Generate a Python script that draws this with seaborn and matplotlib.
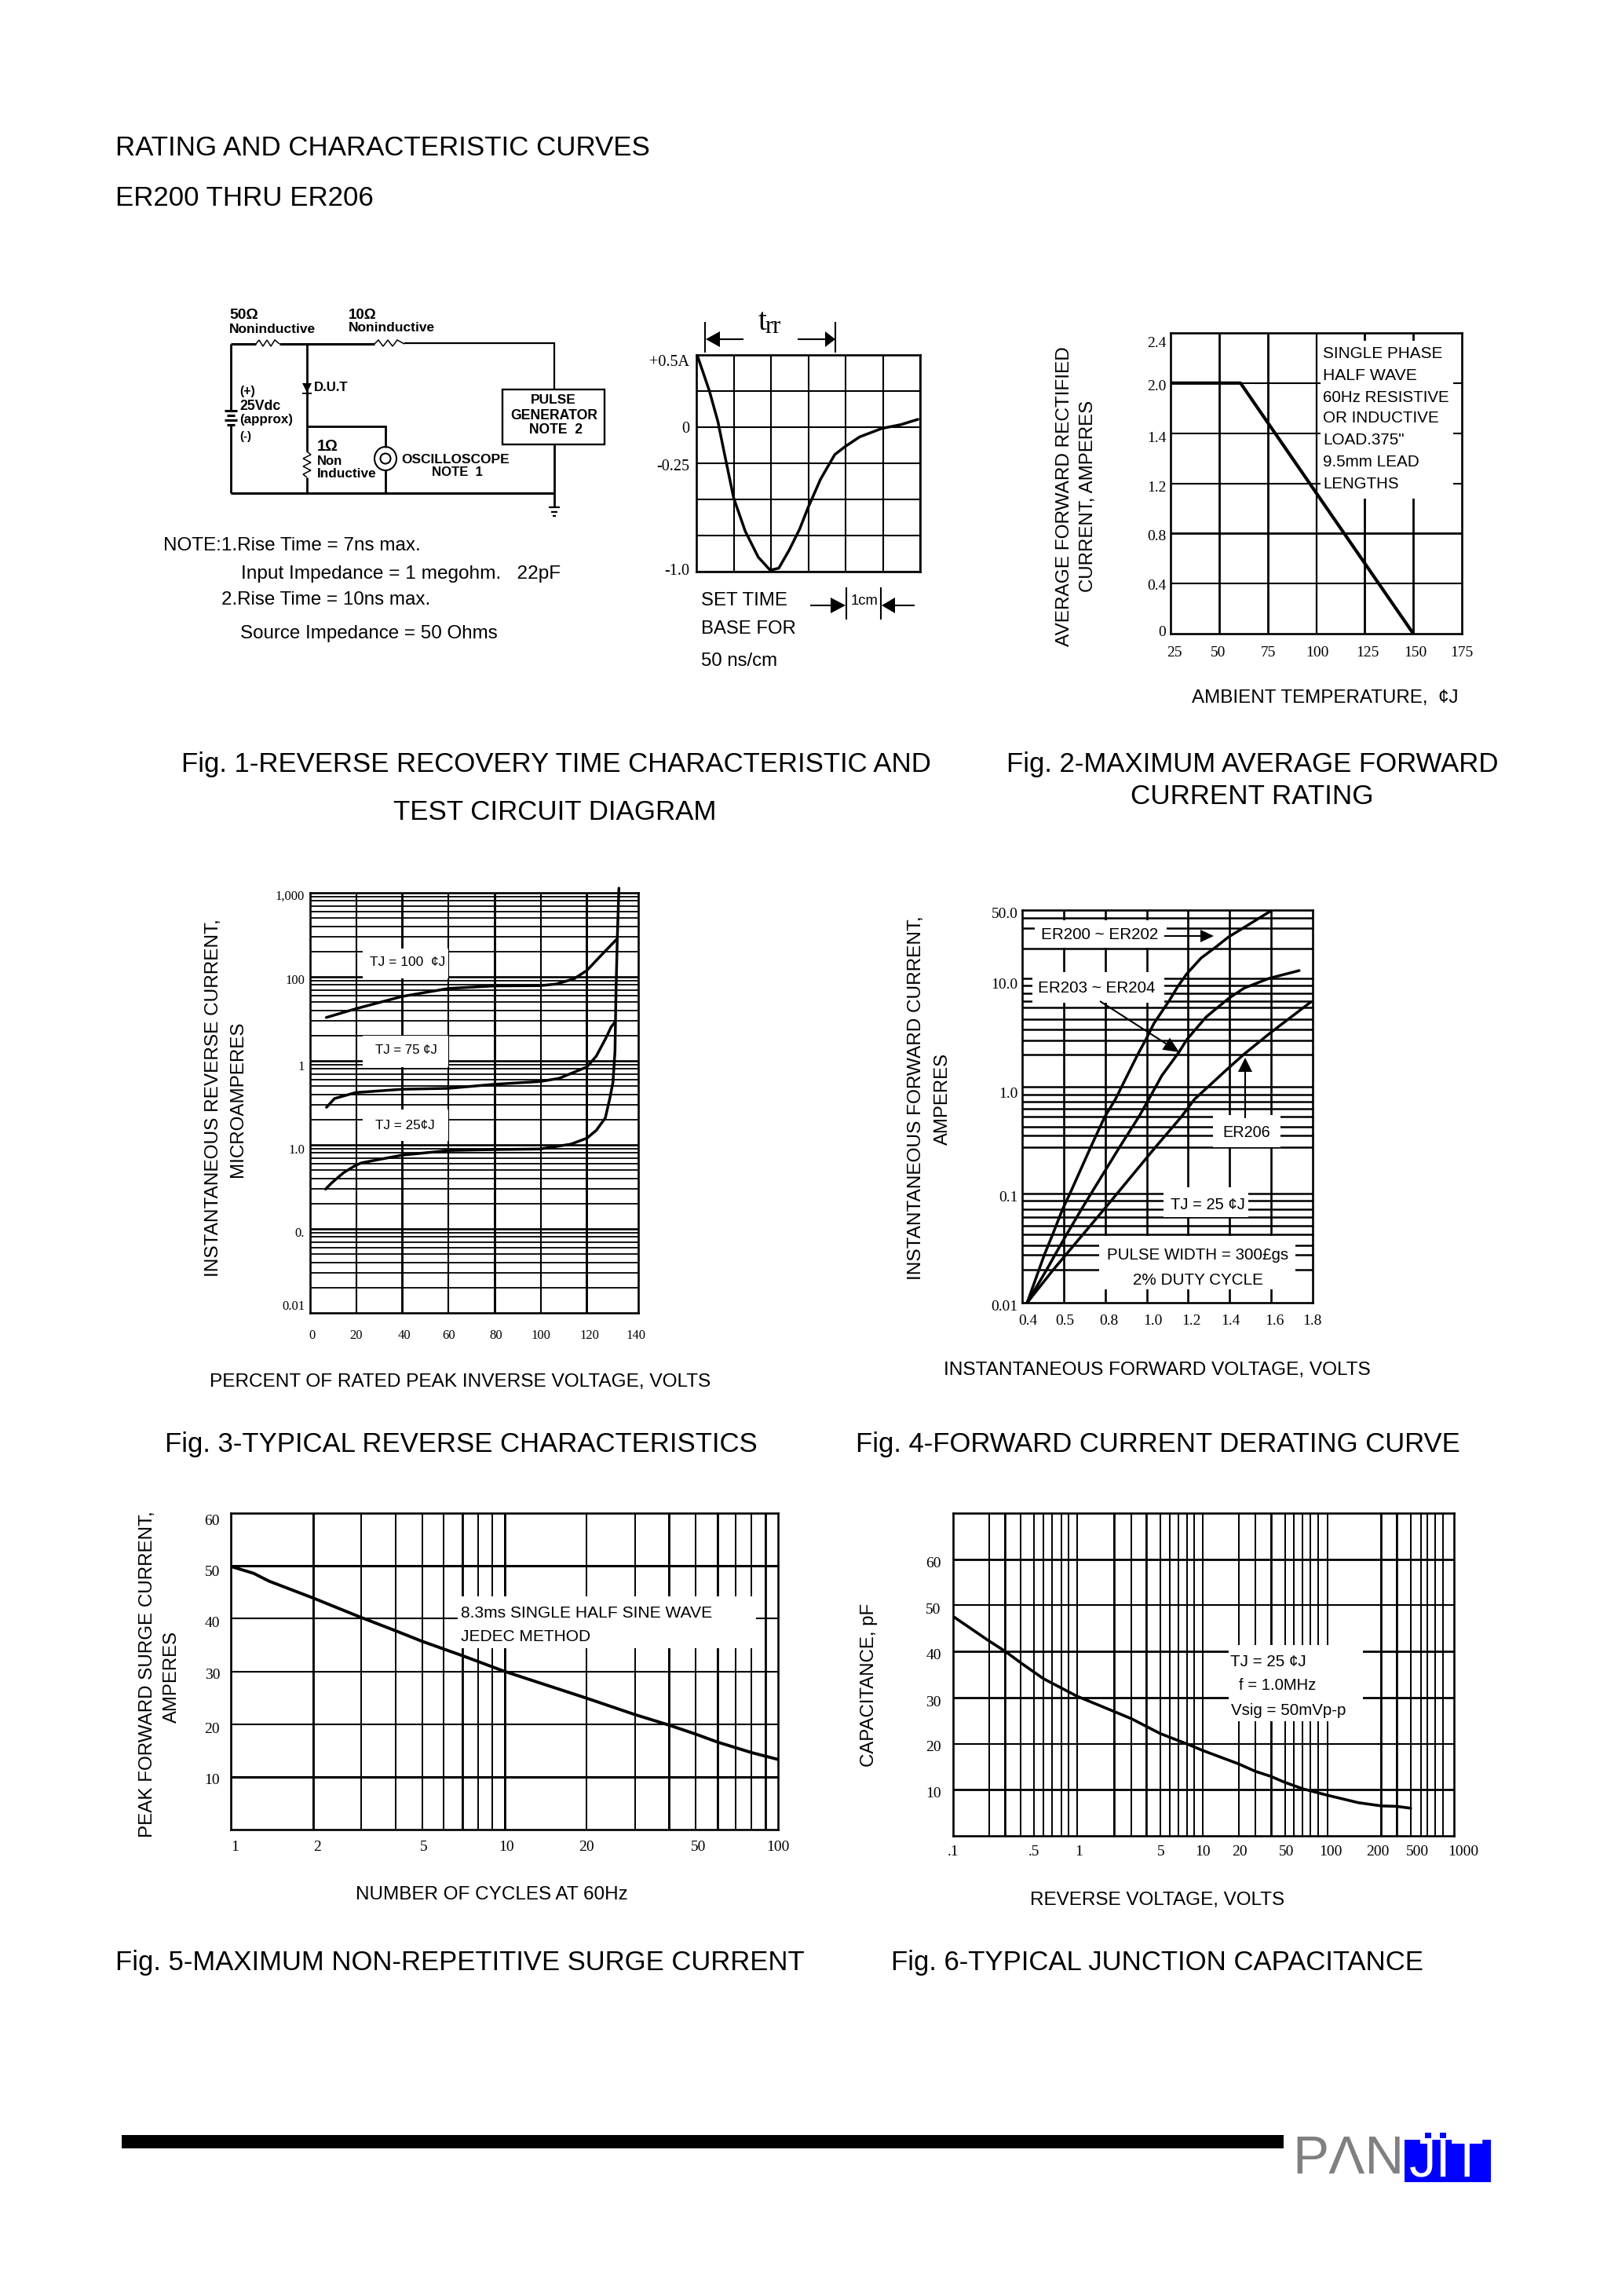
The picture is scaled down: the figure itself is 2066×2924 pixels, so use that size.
"""
ER200 THRU ER206 datasheet page, rating and characteristic curves.
"""
import matplotlib
matplotlib.use('Agg')
import matplotlib.pyplot as plt
import seaborn as sns
from matplotlib.patches import Ellipse, Rectangle
from matplotlib.transforms import Affine2D

W, H = 2066, 2924
SANS = 'Liberation Sans'
SERIF = 'Liberation Serif'

# ============================================================
# Data
# ============================================================
# Fig. 1 scope trace (cm, amperes)
trace_x = [0.02, 0.35, 0.58, 0.75, 1.0, 1.31, 1.66, 1.98, 2.21, 2.49, 2.77, 2.99, 3.33, 3.71, 3.98, 4.38, 4.97, 5.49, 5.94]
trace_y = [0.5, 0.25, 0.036, -0.18, -0.49, -0.72, -0.90, -0.99, -0.976, -0.85, -0.705, -0.56, -0.36, -0.19, -0.136, -0.067, -0.009, 0.018, 0.054]
scope_xticks = [0, 1, 2, 3, 4, 5, 6]
scope_yticks = [0.5, 0.25, 0, -0.25, -0.5, -0.75, -1.0]
scope_labels = {0.5: '+0.5A', 0: '0', -0.25: '-0.25', -1.0: '-1.0'}

# Fig. 2 derating
derate_x = [25, 61, 150]
derate_y = [2.0, 2.0, 0]
derate_xticks = [25, 50, 75, 100, 125, 150, 175]
derate_yticks = [0, 0.4, 0.8, 1.2, 1.6, 2.0, 2.4]
derate_ylabels = ['0', '0.4', '0.8', '1.2', '1.4', '2.0', '2.4']

# Fig. 3 reverse characteristics
rev_100_x = [7.0, 19.7, 39.9, 60.2, 79.9, 99.7, 106.6, 114.4, 120, 126.1, 133.2]
rev_100_y = [32.8, 41.6, 58.4, 72.8, 78, 78.5, 82, 94.6, 119, 179, 285]
rev_75_x = [7.1, 10.6, 19.7, 39.9, 60.2, 79.9, 99.7, 107.9, 120, 124.1, 128, 130.6, 132.2]
rev_75_y = [2.8, 3.56, 4.19, 4.59, 4.71, 5.26, 5.68, 6.18, 8.45, 11.4, 18.1, 25.5, 28.9]
rev_25_x = [6.7, 9.3, 14.5, 19.7, 22.3, 39.9, 60.2, 79.9, 99.7, 113.1, 120, 124.1, 128, 130, 131.3, 132.2, 132.6, 133.2, 133.9]
rev_25_y = [0.297, 0.352, 0.466, 0.570, 0.611, 0.755, 0.857, 0.879, 0.893, 1.02, 1.20, 1.49, 2.09, 3.62, 5.53, 12.9, 59.4, 285, 1135]
rev_xticks = [0, 20, 40, 60, 80, 100, 120, 142.3]
rev_xlabels = ['0', '20', '40', '60', '80', '100', '120', '140']
rev_yticks = [0.01, 0.1, 1, 10, 100, 1000]
rev_ylabels = ['0.01', '0.', '1.0', '1', '100', '1,000']

# Fig. 4 forward characteristics
er200_x = [0.424, 0.481, 0.508, 0.546, 0.594, 0.631, 0.73, 0.798, 0.849, 0.957, 0.997, 1.035, 1.111, 1.149, 1.193, 1.262, 1.338, 1.394, 1.476, 1.609]
er200_y = [0.01, 0.0202, 0.0281, 0.0424, 0.0728, 0.103, 0.274, 0.524, 0.76, 1.98, 2.74, 3.83, 6.32, 8.35, 11.0, 15.4, 19.8, 24.1, 30.1, 43.3]
er203_x = [0.424, 0.518, 0.56, 0.613, 0.685, 0.733, 0.869, 0.962, 1.01, 1.073, 1.155, 1.195, 1.287, 1.394, 1.47, 1.59, 1.735]
er203_y = [0.01, 0.0202, 0.0281, 0.0424, 0.0728, 0.103, 0.274, 0.524, 0.76, 1.26, 2.07, 2.74, 4.40, 6.5, 8.13, 10, 11.8]
er206_x = [0.424, 0.55, 0.613, 0.691, 0.794, 0.859, 1.042, 1.167, 1.23, 1.394, 1.472, 1.594, 1.791]
er206_y = [0.01, 0.0202, 0.0281, 0.0424, 0.0728, 0.103, 0.274, 0.524, 0.76, 1.48, 2.01, 3.11, 6.04]
fwd_xticks = [0.4, 0.6, 0.8, 1.0, 1.2, 1.4, 1.6, 1.8]
fwd_xlabels = ['0.4', '0.5', '0.8', '1.0', '1.2', '1.4', '1.6', '1.8']
fwd_yticks = [0.01, 0.1, 1, 10, 42.8]
fwd_ylabels = ['0.01', '0.1', '1.0', '10.0', '50.0']
fwd_hlines = [36.4, 29.1, 18.8, 10, 8.63, 7.26, 6.15, 5.34, 4.22, 3.37, 2.68, 1.96, 1, 0.847, 0.726, 0.627, 0.524,
              0.422, 0.352, 0.273, 0.103, 0.0875, 0.0726, 0.0615, 0.0518, 0.0428, 0.0337, 0.0278, 0.0202]

# Fig. 5 surge current
surge_x = [1.0, 1.21, 1.38, 2, 3, 4, 5, 7, 10, 20, 30, 40, 50, 60, 80, 100]
surge_y = [49.9, 48.6, 47.1, 43.9, 40.2, 37.7, 35.7, 33, 30, 24.9, 21.8, 19.8, 18.1, 16.6, 14.6, 13.3]
surge_xticks = [1, 2, 5, 10, 20, 50, 100]
surge_yticks = [10, 20, 30, 40, 50, 60]

# Fig. 6 junction capacitance (the printed rulings are not true log positions)
cap_x = [0.1, 0.193, 0.258, 0.357, 0.526, 0.975, 1.92, 2.66, 4.50, 7.43, 9.89, 19.1, 25.9, 34.5, 44.6, 62.1, 97.9, 172, 263, 347, 451]
cap_y = [47.6, 42.3, 40.1, 37.3, 34.1, 30.3, 27, 25.4, 22.2, 19.9, 18.5, 15.6, 14, 12.9, 11.6, 10.2, 8.8, 7.2, 6.5, 6.4, 6.0]
cap_xticks = [0.1, 0.444, 0.975, 4.50, 9.89, 19.1, 44.6, 97.9, 263, 547, 1000]
cap_xlabels = ['.1', '.5', '1', '5', '10', '20', '50', '100', '200', '500', '1000']
cap_yticks = [10, 20, 30, 40, 50, 60]
cap_vlines = [0.193, 0.258, 0.347, 0.444, 0.526, 0.614, 0.733, 0.836, 0.975, 1.92, 2.66, 3.48, 4.50, 5.41, 6.31,
              7.43, 8.47, 9.89, 19.1, 25.9, 34.5, 44.6, 52.8, 62.1, 70.8, 82.6, 97.9, 263, 347, 451, 547, 615, 707, 818]
cap_vthick = [0.258, 1.92, 3.48, 34.5, 263, 347]

# ============================================================
# Page helpers
# ============================================================
sns.set_theme(style='white', rc={'axes.edgecolor': 'black', 'axes.linewidth': 1.9, 'text.color': 'black',
                                 'xtick.color': 'black', 'ytick.color': 'black', 'axes.grid': False})
plt.rcParams['font.family'] = [SANS, 'DejaVu Sans']

fig = plt.figure(figsize=(W / 100, H / 100), dpi=100, facecolor='white')
rend = fig.canvas.get_renderer()

page = fig.add_axes([0, 0, 1, 1], zorder=10)
page.set_xlim(0, W)
page.set_ylim(H, 0)
page.axis('off')


def chart(x0, y0, x1, y1):
    return fig.add_axes([x0 / W, 1 - y1 / H, (x1 - x0) / W, (y1 - y0) / H], zorder=1)


def put(x, y, s, w=None, size=14, rot=0, ha='center', fam=SANS, **kw):
    if rot:
        x += 3
    else:
        y += 2
    t = page.text(x, y, s, fontsize=size, rotation=rot, ha=ha, va='center', family=fam, **kw)
    if w:
        bb = t.get_window_extent(rend)
        t.set_fontsize(size * w / max(bb.width, bb.height))
    return t


def wire(xs, ys, lw=1.6):
    page.plot(xs, ys, color='black', lw=lw, solid_capstyle='butt', solid_joinstyle='miter')


def arrow(x1, y1, x2, y2, hl=17, hw=9, lw=1.5):
    d = ((x2 - x1) ** 2 + (y2 - y1) ** 2) ** 0.5
    ux, uy = (x2 - x1) / d, (y2 - y1) / d
    bx, by = x2 - ux * hl, y2 - uy * hl
    wire([x1, bx], [y1, by], lw)
    page.fill([x2, bx - uy * hw, bx + uy * hw], [y2, by + ux * hw, by - ux * hw], color='black', lw=0)


def blank(ax, x0, y0, x1, y1):
    ax.add_patch(Rectangle((x0, y0), x1 - x0, y1 - y0, transform=page.transData, fc='white', ec='none', zorder=2))


def hgrid(ax, vals, lw=1.5):
    for v in vals:
        ax.axhline(v, color='black', lw=lw, zorder=1)


def vgrid(ax, vals, lw=1.5):
    for v in vals:
        ax.axvline(v, color='black', lw=lw, zorder=1)


def curve(ax, x, y, lw=2.5, **kw):
    sns.lineplot(x=x, y=y, ax=ax, color='black', lw=lw, sort=False, estimator=None, errorbar=None, zorder=3, **kw)


def ticks(ax, xt, xl, yt, yl, xpad, ypad, size=14, xshift=None, yshift=None):
    ax.set_xticks(xt, xl, family=SERIF, fontsize=size)
    ax.set_yticks(yt, yl, family=SERIF, fontsize=size)
    ax.set_xticks([], minor=True)
    ax.set_yticks([], minor=True)
    ax.tick_params(axis='x', which='both', length=0, pad=xpad)
    ax.tick_params(axis='y', which='both', length=0, pad=ypad)
    ax.set_xlabel('')
    ax.set_ylabel('')
    for lab, dx in zip(ax.get_xticklabels(), xshift or []):
        lab.set_transform(lab.get_transform() + Affine2D().translate(dx, 0))
    for lab, dy in zip(ax.get_yticklabels(), yshift or []):
        lab.set_transform(lab.get_transform() + Affine2D().translate(0, -dy))


log_minor = [2, 3, 4, 5, 6, 7, 8, 9]

# ============================================================
# Header
# ============================================================
put(147, 186, 'RATING AND CHARACTERISTIC CURVES', w=683, ha='left')
put(147, 250, 'ER200 THRU ER206', w=330, ha='left')

# ============================================================
# Fig. 1 test circuit (drawn in page pixels)
# ============================================================
wire([294, 326], [438, 438], 2.2)
wire([326, 330, 335, 340, 345, 350, 356], [438, 433, 441, 433, 441, 433, 438], 1.1)
wire([356, 477], [438, 438], 2.2)
wire([477, 482, 488, 494, 500, 506, 515], [438, 433, 441, 433, 441, 433, 438], 1.1)
wire([515, 706, 706], [437, 437, 496])
wire([294, 294], [438, 523], 2)
wire([294, 294], [540, 628], 2)
wire([286, 302], [523, 523], 2.2)
wire([289, 299], [529, 529], 2.2)
wire([286, 302], [535, 535], 2.2)
wire([289, 299], [541, 541], 2.2)
wire([391, 391], [438, 575], 2)
page.fill([385, 397, 391], [488, 488, 500], color='black', lw=0)
wire([385, 397], [501, 501], 1.4)
wire([391, 396, 386, 396, 386, 396, 386, 391], [575, 579, 584, 589, 594, 599, 604, 608], 1.1)
wire([391, 391], [608, 628], 2)
wire([391, 491, 491], [543, 543, 570], 2)
wire([491, 491], [598, 628], 2)
page.add_patch(Ellipse((491, 584), 28, 30, fc='none', ec='black', lw=1.5))
page.add_patch(Ellipse((491, 584), 13, 13, fc='none', ec='black', lw=1.5))
wire([294, 706], [628, 628], 2.2)
wire([706, 706], [566, 645], 2)
wire([699, 713], [646, 646], 1.6)
wire([702, 710], [652, 652], 1.6)
wire([704, 708], [657, 657], 1.6)
page.add_patch(Rectangle((640, 496), 130, 70, fc='none', ec='black', lw=1.7))

for x, y, s, w in [(292, 399, '50Ω', 37), (292, 417, 'Noninductive', 110), (444, 399, '10Ω', 36),
                   (444, 415, 'Noninductive', 110), (400, 492, 'D.U.T', 44), (305, 496, '(+)', 20),
                   (305, 515, '25Vdc', 52), (305, 533, '(approx)', 68), (305, 554, '(-)', 15),
                   (404, 567, '1Ω', 27), (404, 585, 'Non', 32), (404, 602, 'Inductive', 76),
                   (511, 583, 'OSCILLOSCOPE', 138)]:
    put(x, y, s, w=w, size=10, ha='left', fontweight='bold')
put(582, 599, 'NOTE  1', w=65, size=10, fontweight='bold')
put(705, 508, 'PULSE', w=58, size=10, fontweight='bold')
put(706, 527, 'GENERATOR', w=111, size=10, fontweight='bold')
put(708, 546, 'NOTE  2', w=68, size=10, fontweight='bold')

put(208, 693, 'NOTE:1.Rise Time = 7ns max.', w=330, ha='left')
put(307, 729, 'Input Impedance = 1 megohm.   22pF', w=409, ha='left')
put(282, 762, '2.Rise Time = 10ns max.', w=268, ha='left')
put(306, 805, 'Source Impedance = 50 Ohms', w=330, ha='left')

# ============================================================
# Fig. 1 scope trace
# ============================================================
ax = chart(887, 452, 1172, 728)
ax.set_xlim(0, 6)
ax.set_ylim(-1.0, 0.5)
vgrid(ax, scope_xticks)
hgrid(ax, scope_yticks)
curve(ax, trace_x, trace_y, lw=2.5)
ticks(ax, [], [], list(scope_labels), list(scope_labels.values()), 0, 6.5, size=14.5, yshift=[7, 0, 2, -3])

put(971, 409, 't', fam=SERIF, size=28)
put(985, 415, 'rr', fam=SERIF, size=22)
wire([898, 898], [410, 449], 1.5)
wire([1064, 1064], [410, 449], 1.5)
arrow(947, 432, 899, 432, hl=18, hw=10)
arrow(1016, 432, 1064, 432, hl=13, hw=10)
put(893, 763, 'SET TIME', w=110, ha='left')
put(893, 799, 'BASE FOR', w=121, ha='left')
put(893, 840, '50 ns/cm', w=98, ha='left')
wire([1078, 1078], [748, 789], 1.5)
wire([1122, 1122], [748, 789], 1.5)
arrow(1032, 771, 1077, 771, hl=19, hw=10)
arrow(1165, 771, 1123, 771, hl=17, hw=10)
put(1101, 763, '1cm', w=35)

put(708, 971, 'Fig. 1-REVERSE RECOVERY TIME CHARACTERISTIC AND', w=958)
put(707, 1033, 'TEST CIRCUIT DIAGRAM', w=412)

# ============================================================
# Fig. 2 current derating
# ============================================================
ax = chart(1491, 424, 1862, 807)
ax.set_xlim(25, 175)
ax.set_ylim(0, 2.4)
vgrid(ax, [50, 75, 125, 150], 2.0)
vgrid(ax, [100], 1.6)
hgrid(ax, [0.4, 1.2, 1.6, 2.0], 1.5)
hgrid(ax, [0.8], 2.0)
blank(ax, 1682, 434, 1851, 635)
curve(ax, derate_x, derate_y, lw=3)
ticks(ax, derate_xticks, [str(v) for v in derate_xticks], derate_yticks, derate_ylabels, 11.5, 4,
      xshift=[5, -1, 1, 1, 4, 3, 0], yshift=[-4, 1, 2, 4, 5, 3, 12])

for y, s, w in [(448, 'SINGLE PHASE', 153), (476, 'HALF WAVE', 120), (504, '60Hz RESISTIVE', 161),
                (531, 'OR INDUCTIVE', 148), (559, 'LOAD.375"', 104), (587, '9.5mm LEAD', 123), (614, 'LENGTHS', 97)]:
    put(1685, y, s, w=w, ha='left')
put(1353, 632, 'AVERAGE FORWARD RECTIFIED', w=383, rot=90)
put(1383, 632, 'CURRENT, AMPERES', w=245, rot=90)
put(1688, 887, 'AMBIENT TEMPERATURE,  ¢J', w=339)
put(1595, 971, 'Fig. 2-MAXIMUM AVERAGE FORWARD', w=628)
put(1595, 1012, 'CURRENT RATING', w=310)

# ============================================================
# Fig. 3 reverse characteristics
# ============================================================
ax = chart(395, 1137, 813, 1672)
ax.set_yscale('log')
ax.set_xlim(0, 142.3)
ax.set_ylim(0.01, 1000)
vgrid(ax, [20, 60, 100], 1.5)
vgrid(ax, [40, 80, 120], 2.1)
hgrid(ax, [m * 10.0 ** k for k in range(-2, 3) for m in log_minor], 1.3)
hgrid(ax, rev_yticks[1:-1], 1.9)
blank(ax, 462, 1208, 571, 1246)
blank(ax, 462, 1319, 571, 1359)
blank(ax, 462, 1413, 571, 1453)
curve(ax, rev_100_x, rev_100_y)
curve(ax, rev_75_x, rev_75_y)
curve(ax, rev_25_x, rev_25_y, clip_on=False)
ticks(ax, rev_xticks, rev_xlabels, rev_yticks, rev_ylabels, 15, 5, size=12,
      xshift=[2, 0, 2, 0, 2, 0, 3, -3], yshift=[-10, 4, 5, 6, 3, 3])

put(519, 1224, 'TJ = 100  ¢J', w=96)
put(517, 1336, 'TJ = 75 ¢J', w=79)
put(516, 1431, 'TJ = 25¢J', w=76)
put(269, 1398, 'INSTANTANEOUS REVERSE CURRENT,', w=457, rot=90)
put(300, 1400, 'MICROAMPERES', w=199, rot=90)
put(586, 1758, 'PERCENT OF RATED PEAK INVERSE VOLTAGE, VOLTS', w=640)
put(587, 1837, 'Fig. 3-TYPICAL REVERSE CHARACTERISTICS', w=757)

# ============================================================
# Fig. 4 forward characteristics
# ============================================================
ax = chart(1302, 1159, 1672, 1659)
ax.set_yscale('log')
ax.set_xlim(0.4, 1.8)
ax.set_ylim(0.01, 42.8)
vgrid(ax, fwd_xticks[1:-1], 1.9)
hgrid(ax, fwd_hlines, 1.8)
blank(ax, 1318, 1172, 1486, 1207)
blank(ax, 1315, 1238, 1483, 1277)
blank(ax, 1545, 1420, 1631, 1461)
blank(ax, 1482, 1512, 1590, 1550)
blank(ax, 1400, 1574, 1650, 1642)
curve(ax, er200_x, er200_y)
curve(ax, er203_x, er203_y)
curve(ax, er206_x, er206_y)
ticks(ax, fwd_xticks, fwd_xlabels, fwd_yticks, fwd_ylabels, 11, 4,
      xshift=[7, 1, 5, 8, 4, 1, 4, -1], yshift=[3.5, 2, 7.5, 6.5, 3])

put(1401, 1189, 'ER200 ~ ER202', w=150)
put(1397, 1257, 'ER203 ~ ER204', w=150)
put(1588, 1440, 'ER206', w=61)
put(1538, 1533, 'TJ = 25 ¢J', w=95)
put(1526, 1596, 'PULSE WIDTH = 300£gs', w=232)
put(1526, 1628, '2% DUTY CYCLE', w=166)
arrow(1483, 1192, 1546, 1192, hl=17, hw=8)
arrow(1401, 1275, 1502, 1340, hl=20, hw=9)
arrow(1586, 1424, 1586, 1347, hl=18, hw=9)
put(1164, 1398, 'INSTANTANEOUS FORWARD CURRENT,', w=467, rot=90)
put(1198, 1400, 'AMPERES', w=117, rot=90)
put(1474, 1743, 'INSTANTANEOUS FORWARD VOLTAGE, VOLTS', w=547)
put(1475, 1837, 'Fig. 4-FORWARD CURRENT DERATING CURVE', w=772)

# ============================================================
# Fig. 5 surge current
# ============================================================
ax = chart(294, 1927, 991, 2330)
ax.set_xscale('log')
ax.set_xlim(1, 100)
ax.set_ylim(0, 60)
vgrid(ax, [m * 10.0 ** k for k in range(2) for m in log_minor] + [10], 1.4)
vgrid(ax, [2, 7, 10, 40, 60, 90], 2.0)
hgrid(ax, [20, 30, 40], 1.5)
hgrid(ax, [10, 50], 2.2)
blank(ax, 583, 2033, 963, 2099)
curve(ax, surge_x, surge_y, lw=2.8)
ticks(ax, surge_xticks, [str(v) for v in surge_xticks], surge_yticks, [str(v) for v in surge_yticks], 10, 10,
      xshift=[5, 5, 2, 3, 0, 3, 0], yshift=[3, 5, 3, 4, 6, 8])

put(587, 2053, '8.3ms SINGLE HALF SINE WAVE', w=321, ha='left')
put(587, 2082, 'JEDEC METHOD', w=165, ha='left')
put(185, 2132, 'PEAK FORWARD SURGE CURRENT,', w=417, rot=90)
put(216, 2135, 'AMPERES', w=117, rot=90)
put(626, 2411, 'NUMBER OF CYCLES AT 60Hz', w=348)
put(586, 2497, 'Fig. 5-MAXIMUM NON-REPETITIVE SURGE CURRENT', w=878)

# ============================================================
# Fig. 6 junction capacitance
# ============================================================
ax = chart(1214, 1927, 1852, 2338)
ax.set_xscale('log')
ax.set_xlim(0.1, 1000)
ax.set_ylim(0, 70)
vgrid(ax, cap_vlines, 1.4)
vgrid(ax, cap_vthick, 1.9)
hgrid(ax, [20, 50], 1.5)
hgrid(ax, [10, 30, 40, 60], 2.0)
blank(ax, 1565, 2095, 1736, 2192)
curve(ax, cap_x, cap_y, lw=2.6)
ticks(ax, cap_xticks, cap_xlabels, cap_yticks, [str(v) for v in cap_yticks], 8.5, 11,
      xshift=[0, 0, 2, 1, 0, 1, 2, 4, -5, -5, 12], yshift=[3, 3, 5, 3, 4, 4])

put(1567, 2114, 'TJ = 25 ¢J', w=97, ha='left')
put(1578, 2145, 'f = 1.0MHz', w=99, ha='left')
put(1568, 2176, 'Vsig = 50mVp-p', w=147, ha='left')
put(1104, 2146, 'CAPACITANCE, pF', w=208, rot=90)
put(1474, 2418, 'REVERSE VOLTAGE, VOLTS', w=326)
put(1474, 2497, 'Fig. 6-TYPICAL JUNCTION CAPACITANCE', w=680)

# ============================================================
# Footer bar and logo
# ============================================================
page.add_patch(Rectangle((155, 2719), 1480, 17, fc='black', ec='none'))
put(1717, 2748, 'PΛN', w=143, color='#808080')
page.add_patch(Rectangle((1789, 2725), 110, 54, fc='#0000ff', ec='none'))
page.add_patch(Rectangle((1815, 2716), 8, 7, fc='#0000ff', ec='none'))
page.add_patch(Rectangle((1834, 2716), 8, 7, fc='#0000ff', ec='none'))
put(1843, 2751, 'JIT', w=96, color='white')

fig.savefig('out.png', dpi=100, facecolor='white')
